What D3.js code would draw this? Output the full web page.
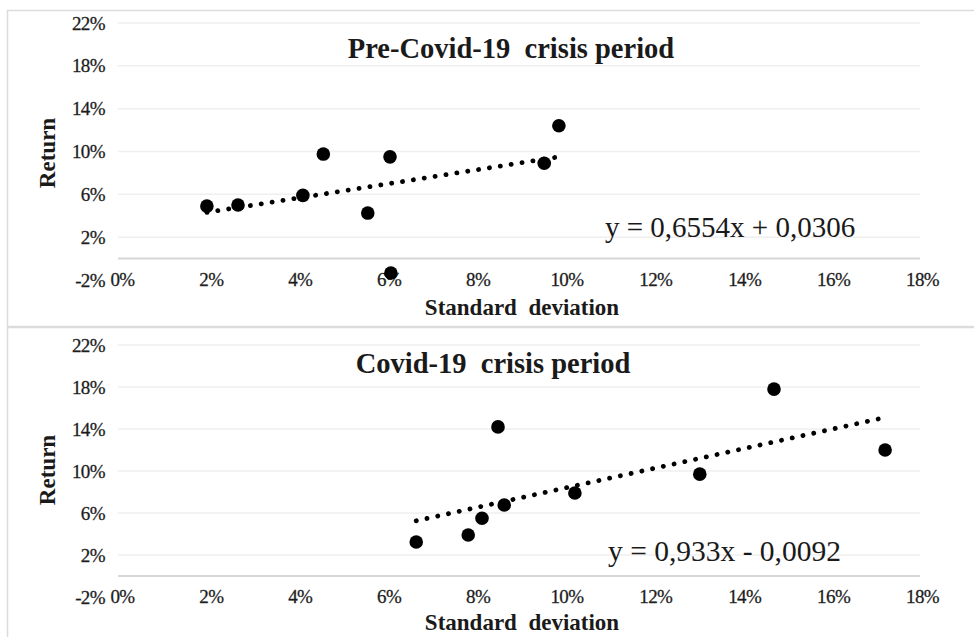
<!DOCTYPE html>
<html>
<head>
<meta charset="utf-8">
<script src="https://cdn.jsdelivr.net/npm/d3@7"></script>
<style>
  html, body { margin: 0; padding: 0; background: #ffffff; }
  svg { display: block; }
  text { font-family: "Liberation Serif", "Times New Roman", serif; fill: #1a1a1a; }
</style>
</head>
<body>
<svg id="chart" width="974" height="637"></svg>
<script>
// Axis ticks (shared by both panels)
const xTicks = [0, 0.02, 0.04, 0.06, 0.08, 0.10, 0.12, 0.14, 0.16, 0.18];
const yTicks = [-0.02, 0.02, 0.06, 0.10, 0.14, 0.18, 0.22];

// Pre-Covid-19 period: standard deviation vs return
const preStd    = [0.0191, 0.0261, 0.0407, 0.0453, 0.0553, 0.0603, 0.0605, 0.0950, 0.0983];
const preReturn = [0.0490, 0.0500, 0.0590, 0.0976, 0.0425, 0.0950, -0.0135, 0.0890, 0.1240];
const preSlope = 0.6554, preIntercept = 0.0306;

// Covid-19 period: standard deviation vs return
const covidStd    = [0.0662, 0.0779, 0.0810, 0.0860, 0.0846, 0.1019, 0.1300, 0.1467, 0.1717];
const covidReturn = [0.0324, 0.0390, 0.0550, 0.0676, 0.1420, 0.0790, 0.0970, 0.1780, 0.1200];
const covidSlope = 0.933, covidIntercept = -0.0092;

const pct = d => `${Math.round(d * 100)}%`;
const fmtCoef = v => String(v).replace(".", ",");
const equation = (m, b) =>
  `y = ${fmtCoef(m)}x ${b < 0 ? "-" : "+"} ${fmtCoef(Math.abs(b).toFixed(4))}`;

const svg = d3.select("#chart");

const panels = [
  { title: "Pre-Covid-19\u00a0\u00a0crisis period", std: preStd, ret: preReturn,
    slope: preSlope, intercept: preIntercept,
    top: 10, bottom: 326, yRange: [280, 23], titleX: 511, titleY: 58,
    eqX: 605, eqY: 237, eqSize: 29, returnY: 153, xTitleY: 315 },
  { title: "Covid-19\u00a0\u00a0crisis period", std: covidStd, ret: covidReturn,
    slope: covidSlope, intercept: covidIntercept,
    top: 327, bottom: 660, yRange: [597, 345], titleX: 493, titleY: 373,
    eqX: 608, eqY: 561, eqSize: 29.5, returnY: 470, xTitleY: 630 }
];

const x = d3.scaleLinear().domain([0, 0.18]).range([122, 922]);

panels.forEach(p => {
  const g = svg.append("g");
  const y = d3.scaleLinear().domain([-0.02, 0.22]).range(p.yRange);

  // chart frame
  g.append("rect")
    .attr("x", 7.5).attr("y", p.top + 0.5)
    .attr("width", 1000).attr("height", p.bottom - p.top)
    .attr("fill", "#ffffff").attr("stroke", "#dcdcdc").attr("stroke-width", 1.5);

  // horizontal gridlines
  g.append("g").selectAll("line")
    .data(yTicks.filter(t => t > 0))
    .join("line")
    .attr("x1", x(0) - 4).attr("x2", x(0.18) - 2)
    .attr("y1", d => y(d)).attr("y2", d => y(d))
    .attr("stroke", "#efefef").attr("stroke-width", 1.5);

  // x axis line at zero return
  g.append("line")
    .attr("x1", x(0) - 4).attr("x2", x(0.18) - 2)
    .attr("y1", y(0)).attr("y2", y(0))
    .attr("stroke", "#d6d6d6").attr("stroke-width", 2);

  // y tick labels
  const yAxis = d3.axisLeft(y).tickValues(yTicks).tickFormat(pct).tickSize(0).tickPadding(0);
  const ya = g.append("g").attr("transform", "translate(105,0)").call(yAxis);
  ya.select(".domain").remove();
  ya.selectAll("text")
    .attr("font-family", "Liberation Serif")
    .attr("font-size", 19).attr("fill", "#2a2a2a")
    .attr("stroke", "#2a2a2a").attr("stroke-width", 0.3)
    .attr("letter-spacing", -0.6);

  // x tick labels, placed at the low end of the plot
  const xAxis = d3.axisBottom(x).tickValues(xTicks).tickFormat(pct).tickSize(0).tickPadding(0);
  const xa = g.append("g").attr("transform", `translate(0,${y(-0.02) - 8})`).call(xAxis);
  xa.select(".domain").remove();
  xa.selectAll("text")
    .attr("font-family", "Liberation Serif")
    .attr("font-size", 19).attr("fill", "#2a2a2a")
    .attr("stroke", "#2a2a2a").attr("stroke-width", 0.3)
    .attr("letter-spacing", -0.6);

  // linear trendline from the stated equation
  const xMin = d3.min(p.std), xMax = d3.max(p.std);
  g.append("line")
    .attr("x1", x(xMin)).attr("y1", y(p.slope * xMin + p.intercept))
    .attr("x2", x(xMax)).attr("y2", y(p.slope * xMax + p.intercept))
    .attr("stroke", "#000").attr("stroke-width", 4.8)
    .attr("stroke-linecap", "round").attr("stroke-dasharray", "0.1 10.9");

  // data points
  g.append("g").selectAll("circle")
    .data(d3.zip(p.std, p.ret))
    .join("circle")
    .attr("cx", d => x(d[0])).attr("cy", d => y(d[1]))
    .attr("r", 6.8).attr("fill", "#000");

  // title
  g.append("text")
    .attr("x", p.titleX).attr("y", p.titleY)
    .attr("text-anchor", "middle")
    .attr("font-size", 28.5).attr("font-weight", "bold")
    .text(p.title);

  // regression equation
  g.append("text")
    .attr("x", p.eqX).attr("y", p.eqY)
    .attr("font-size", p.eqSize).attr("fill", "#222")
    .text(equation(p.slope, p.intercept));

  // axis titles
  g.append("text")
    .attr("transform", `translate(55,${p.returnY}) rotate(-90)`)
    .attr("text-anchor", "middle")
    .attr("font-size", 23).attr("font-weight", "bold")
    .text("Return");

  g.append("text")
    .attr("x", 522).attr("y", p.xTitleY)
    .attr("text-anchor", "middle")
    .attr("font-size", 23).attr("font-weight", "bold")
    .text("Standard\u00a0\u00a0deviation");
});
</script>
</body>
</html>
